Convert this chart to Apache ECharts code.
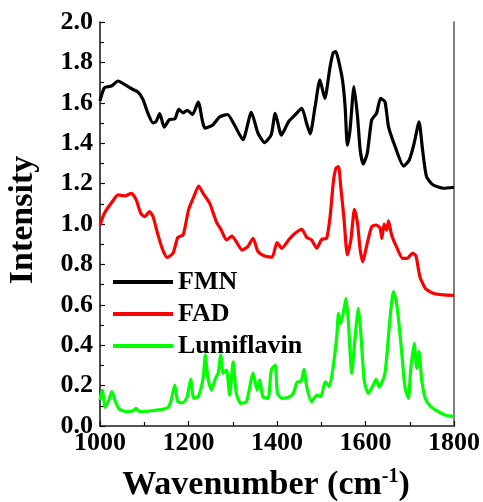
<!DOCTYPE html>
<html>
<head>
<meta charset="UTF-8">
<title>Intensity spectra</title>
<script src="https://cdn.jsdelivr.net/npm/echarts@6/dist/echarts.min.js"></script>
<style>
  html, body { margin: 0; background: #fff; }
  #main { width: 483px; height: 502px; }
</style>
</head>
<body>
<div id="main"></div>
<script>
// values
const fmnWn = [1000,1010,1026,1041,1056,1071,1086,1097,1108,1120,1127,1135,1145,1157,1169,1178,1188,1197,1209,1222,
  1237,1255,1270,1288,1304,1323,1342,1357,1372,1387,1396,1410,1426,1441,1456,1467,1475,1486,1497,1508,
  1520,1527,1533,1539,1548,1554,1559,1565,1574,1582,1588,1595,1604,1614,1625,1634,1644,1652,1667,1686,
  1699,1710,1721,1729,1738,1753,1776,1800];
const fmnI = [1.61,1.675,1.683,1.708,1.69,1.67,1.653,1.617,1.55,1.50,1.508,1.547,1.48,1.517,1.52,1.567,1.55,1.563,1.542,1.603,
  1.475,1.49,1.53,1.542,1.49,1.417,1.553,1.45,1.403,1.442,1.548,1.44,1.506,1.54,1.573,1.498,1.446,1.58,1.713,1.622,
  1.779,1.848,1.853,1.81,1.713,1.58,1.39,1.465,1.68,1.531,1.366,1.297,1.35,1.515,1.548,1.622,1.605,1.482,1.383,1.287,
  1.317,1.40,1.506,1.366,1.234,1.193,1.177,1.182];

const fadWn = [1000,1010,1026,1041,1056,1071,1082,1092,1101,1112,1120,1131,1142,1152,1165,1176,1188,1200,1212,1223,
  1233,1248,1263,1274,1286,1298,1308,1321,1334,1346,1357,1372,1389,1400,1411,1426,1441,1456,1467,1478,
  1490,1501,1512,1520,1527,1533,1539,1544,1551,1559,1567,1575,1582,1588,1594,1603,1614,1624,1633,1637,
  1642,1648,1652,1659,1670,1684,1694,1706,1714,1723,1735,1753,1776,1800];
const fadI = [0.995,1.053,1.105,1.144,1.139,1.152,1.119,1.053,1.036,1.061,1.036,0.946,0.871,0.835,0.855,0.934,0.946,1.069,1.135,1.188,
  1.152,1.102,1.011,0.97,0.921,0.94,0.912,0.871,0.888,0.929,0.863,0.842,0.836,0.908,0.88,0.921,0.954,0.974,0.934,0.921,
  0.88,0.924,0.929,1.036,1.201,1.276,1.284,1.185,1.036,0.847,0.921,1.073,1.003,0.871,0.813,0.896,0.987,0.995,0.979,0.929,
  1.0,0.97,1.016,0.946,0.888,0.83,0.83,0.855,0.842,0.739,0.682,0.657,0.649,0.647];

const lumWn = [1000,1005,1012,1020,1027,1035,1044,1060,1075,1081,1090,1109,1127,1142,1154,1161,1169,1176,1188,1197,
  1205,1212,1222,1233,1238,1244,1252,1261,1267,1273,1278,1286,1293,1301,1308,1318,1331,1346,1355,1361,
  1368,1380,1387,1396,1401,1411,1426,1437,1446,1454,1461,1467,1478,1490,1499,1509,1518,1527,1535,1539,
  1544,1551,1556,1561,1569,1576,1584,1589,1597,1606,1616,1624,1631,1644,1655,1663,1669,1674,1682,1689,
  1697,1702,1710,1716,1721,1727,1735,1746,1761,1780,1800];
const lumI = [0.129,0.178,0.092,0.129,0.17,0.12,0.083,0.071,0.076,0.087,0.071,0.073,0.079,0.083,0.092,0.129,0.203,0.12,0.115,0.145,
  0.231,0.137,0.145,0.236,0.351,0.236,0.178,0.236,0.261,0.351,0.261,0.277,0.153,0.318,0.162,0.112,0.12,0.261,0.178,0.228,
  0.145,0.137,0.277,0.302,0.162,0.137,0.142,0.162,0.219,0.219,0.281,0.195,0.12,0.153,0.145,0.219,0.195,0.294,0.442,0.558,
  0.508,0.574,0.632,0.525,0.261,0.426,0.583,0.475,0.228,0.162,0.195,0.231,0.192,0.261,0.525,0.665,0.624,0.541,0.36,0.195,
  0.137,0.277,0.409,0.285,0.368,0.228,0.137,0.099,0.076,0.054,0.046];

const seriesNames = ['FMN', 'FAD', 'Lumiflavin'];

const font = 'Liberation Serif';
function pairs(xs, ys) { return xs.map((x, i) => [x, ys[i]]); }

let myChart = echarts.init(document.getElementById('main'), null, {renderer: 'canvas'});

let option = {
  animation: false,
  grid: { left: 100, right: 29, top: 22, bottom: 76, outerBoundsMode: 'none' },
  legend: {
    orient: 'vertical',
    left: 108,
    top: 262,
    itemWidth: 60,
    itemHeight: 4,
    itemGap: 2,
    icon: 'rect',
    data: seriesNames,
    textStyle: { fontFamily: font, fontWeight: 'bold', fontSize: 26, color: '#000', lineHeight: 30 }
  },
  xAxis: [{
    type: 'value',
    min: 1000, max: 1800, interval: 200,
    name: '{a|Wavenumber (cm}{s|-1}{a|)}',
    nameLocation: 'middle',
    nameGap: 41,
    nameTextStyle: {
      padding: [0, 22, 0, 0],
      rich: {
        a: { fontFamily: font, fontWeight: 'bold', fontSize: 34, color: '#000', lineHeight: 36 },
        s: { fontFamily: font, fontWeight: 'bold', fontSize: 20, color: '#000', lineHeight: 36, verticalAlign: 'top' }
      }
    },
    axisLine: { lineStyle: { color: '#111', width: 1.5 } },
    axisTick: { inside: true, length: 5, lineStyle: { color: '#111', width: 1.2 } },
    minorTick: { show: true, splitNumber: 2, length: 4, lineStyle: { color: '#111', width: 1.2 } },
    splitLine: { show: false },
    axisLabel: {
      fontFamily: font, fontWeight: 'bold', fontSize: 26, color: '#000', margin: 4,
      formatter: v => String(v)
    }
  }, {
    type: 'value', position: 'top', min: 1000, max: 1800,
    axisLine: { show: true, lineStyle: { color: '#555', width: 1.5 } },
    axisTick: { show: false }, axisLabel: { show: false }, splitLine: { show: false }
  }],
  yAxis: [{
    type: 'value',
    min: 0, max: 2, interval: 0.2,
    name: 'Intensity',
    nameLocation: 'middle',
    nameGap: 60,
    nameTextStyle: { fontFamily: font, fontWeight: 'bold', fontSize: 34, color: '#000', padding: [0, 0, 0, 8] },
    axisLine: { show: true, lineStyle: { color: '#111', width: 1.5 } },
    axisTick: { show: true, inside: true, length: 5, lineStyle: { color: '#111', width: 1.2 } },
    minorTick: { show: true, splitNumber: 2, length: 4, lineStyle: { color: '#111', width: 1.2 } },
    splitLine: { show: false },
    axisLabel: {
      fontFamily: font, fontWeight: 'bold', fontSize: 26, color: '#000', margin: 7,
      formatter: v => v.toFixed(1)
    }
  }, {
    type: 'value', position: 'right', min: 0, max: 2,
    axisLine: { show: true, lineStyle: { color: '#555', width: 1.5 } },
    axisTick: { show: false }, axisLabel: { show: false }, splitLine: { show: false }
  }],
  series: [{
    name: 'FMN',
    type: 'line',
    showSymbol: false,
    smooth: 0.2,
    lineStyle: { color: '#000', width: 3.2 },
    itemStyle: { color: '#000' },
    data: pairs(fmnWn, fmnI)
  }, {
    name: 'FAD',
    type: 'line',
    showSymbol: false,
    smooth: 0.2,
    lineStyle: { color: '#ff0000', width: 3.2 },
    itemStyle: { color: '#ff0000' },
    data: pairs(fadWn, fadI)
  }, {
    name: 'Lumiflavin',
    type: 'line',
    showSymbol: false,
    smooth: 0.2,
    lineStyle: { color: '#00ff00', width: 3.2 },
    itemStyle: { color: '#00ff00' },
    data: pairs(lumWn, lumI)
  }]
};

myChart.setOption(option);
</script>
</body>
</html>
